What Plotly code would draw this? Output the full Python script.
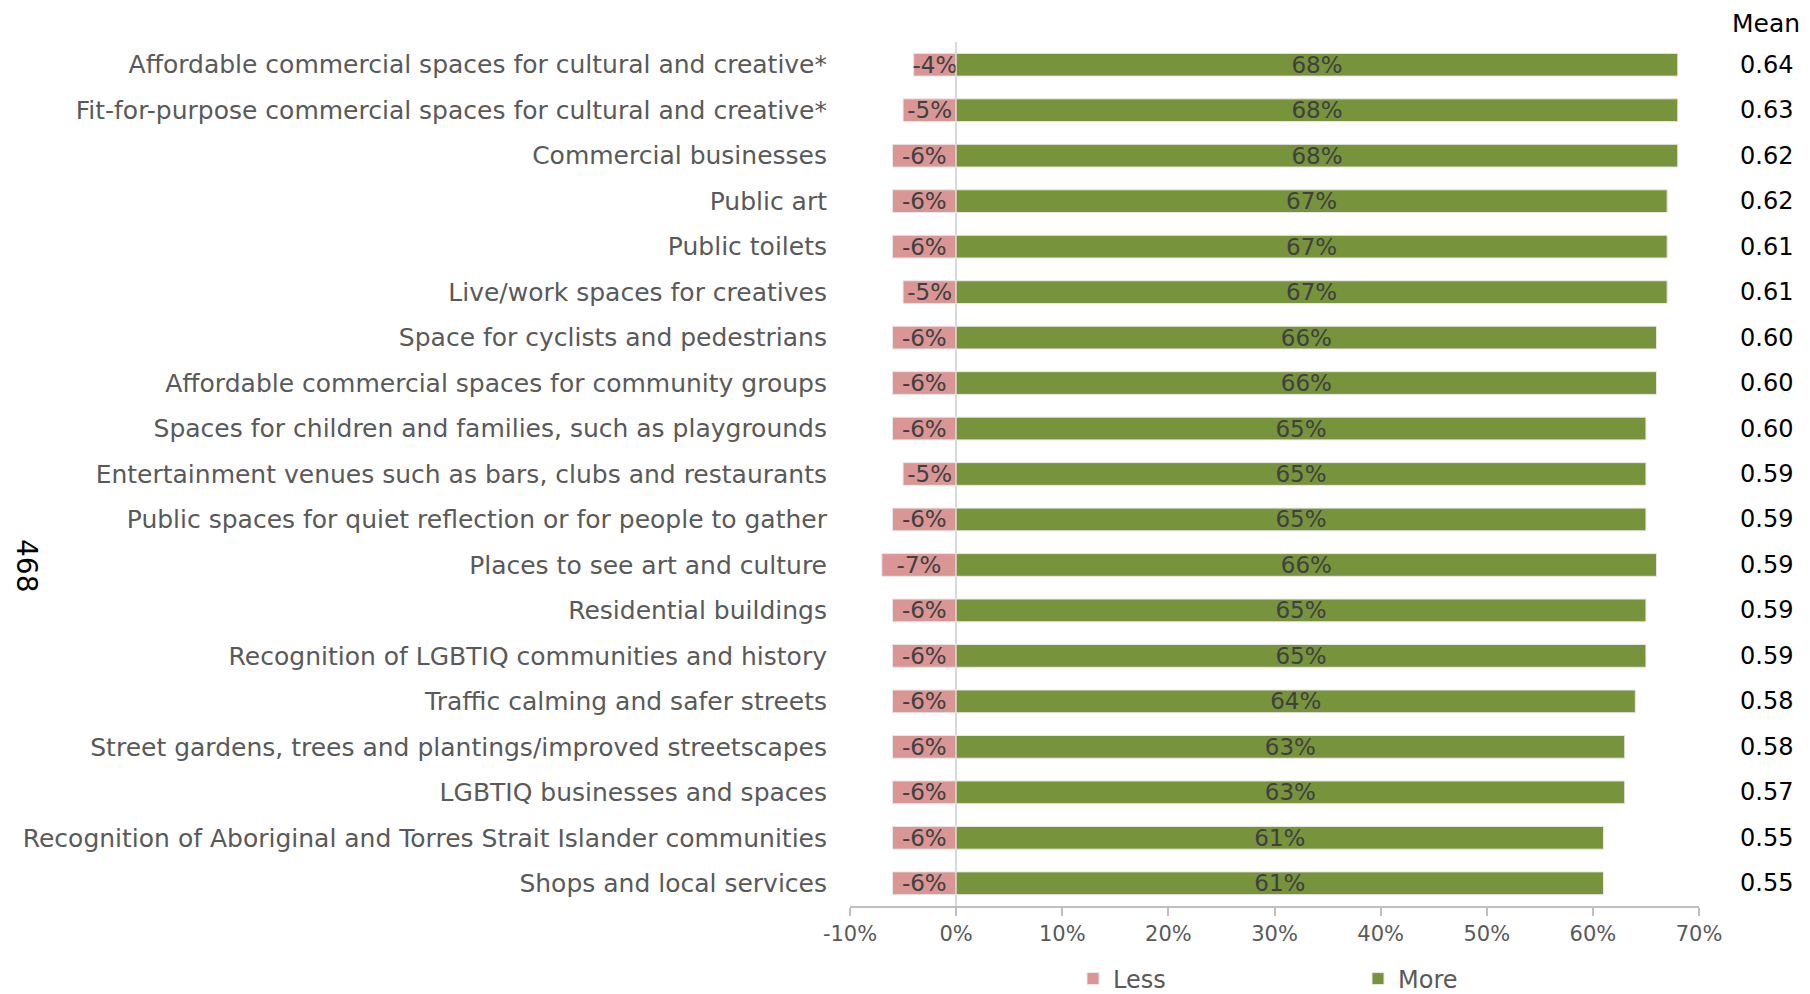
import plotly.graph_objects as go

categories = [
    "Affordable commercial spaces for cultural and creative*",
    "Fit-for-purpose commercial spaces for cultural and creative*",
    "Commercial businesses",
    "Public art",
    "Public toilets",
    "Live/work spaces for creatives",
    "Space for cyclists and pedestrians",
    "Affordable commercial spaces for community groups",
    "Spaces for children and families, such as playgrounds",
    "Entertainment venues such as bars, clubs and restaurants",
    "Public spaces for quiet reflection or for people to gather",
    "Places to see art and culture",
    "Residential buildings",
    "Recognition of LGBTIQ communities and history",
    "Traffic calming and safer streets",
    "Street gardens, trees and plantings/improved streetscapes",
    "LGBTIQ businesses and spaces",
    "Recognition of Aboriginal and Torres Strait Islander communities",
    "Shops and local services",
]
less = [-4, -5, -6, -6, -6, -5, -6, -6, -6, -5, -6, -7, -6, -6, -6, -6, -6, -6, -6]
more = [68, 68, 68, 67, 67, 67, 66, 66, 65, 65, 65, 66, 65, 65, 64, 63, 63, 61, 61]
mean = [0.64, 0.63, 0.62, 0.62, 0.61, 0.61, 0.60, 0.60, 0.60, 0.59, 0.59, 0.59,
        0.59, 0.59, 0.58, 0.58, 0.57, 0.55, 0.55]
x_ticks = [-10, 0, 10, 20, 30, 40, 50, 60, 70]
x_tick_labels = [f"{t}%" for t in x_ticks]
side_label = "468"
mean_header = "Mean"

FONT = "DejaVu Sans"
GREY = "#595959"

OFF = 8  # page body margin offset
W, H = 1810 - OFF, 994 - OFF
PLOT_L, PLOT_R, PLOT_T, PLOT_B = 850 - OFF, 1699 - OFF, 42 - OFF, 906 - OFF
L, R, T, B = PLOT_L, W - PLOT_R, PLOT_T, H - PLOT_B
PW, PH = PLOT_R - PLOT_L, PLOT_B - PLOT_T


def px_x(x):
    return (x - OFF - PLOT_L) / PW


def px_y(y):
    return (PLOT_B - (y - OFF)) / PH


fig = go.Figure()
fig.add_trace(go.Bar(
    y=categories, x=less, name="Less", orientation="h",
    marker=dict(color="#D99694", line=dict(color="#E8E8E8", width=1)),
    texttemplate="%{x:.0f}%", textposition="inside", insidetextanchor="middle",
    constraintext="none", textfont=dict(family=FONT, size=23, color="#404040"),
    hoverinfo="skip",
))
fig.add_trace(go.Bar(
    y=categories, x=more, name="More", orientation="h",
    marker=dict(color="#77933C", line=dict(color="#E8E8E8", width=1)),
    texttemplate="%{x:.0f}%", textposition="inside", insidetextanchor="middle",
    constraintext="none", textfont=dict(family=FONT, size=23, color="#404040"),
    hoverinfo="skip",
))

for c, m in zip(categories, mean):
    fig.add_annotation(x=px_x(1766), xref="paper", y=c, yref="y", text=f"{m:.2f}",
                       showarrow=False, xanchor="center",
                       font=dict(family=FONT, size=24, color="#000000"))
fig.add_annotation(x=px_x(1766), xref="paper", y=px_y(23), yref="paper",
                   text=mean_header, showarrow=False, xanchor="center", yanchor="middle",
                   font=dict(family=FONT, size=25, color="#000000"))
fig.add_annotation(x=px_x(27), xref="paper", y=px_y(565), yref="paper",
                   text=side_label, showarrow=False, textangle=90,
                   xanchor="center", yanchor="middle",
                   font=dict(family=FONT, size=28, color="#000000"))

fig.update_layout(
    width=W, height=H,
    margin=dict(l=L, r=R, t=T, b=B, autoexpand=False),
    paper_bgcolor="white", plot_bgcolor="white",
    barmode="relative", bargap=0.5,
    font=dict(family=FONT, color=GREY),
    showlegend=True,
    legend=dict(orientation="h", x=px_x(1073), xanchor="left",
                yref="container", y=1 - (979 - OFF) / H, yanchor="middle",
                entrywidth=240, entrywidthmode="pixels",
                font=dict(family=FONT, size=24, color=GREY)),
    xaxis=dict(range=[-10, 70], tickvals=x_ticks, ticktext=x_tick_labels,
               showgrid=False, zeroline=True, zerolinecolor="#D9D9D9", zerolinewidth=2,
               showline=True, linecolor="#BFBFBF", linewidth=2, automargin=False,
               ticks="outside", ticklen=8, tickcolor="#BFBFBF", tickwidth=2,
               tickfont=dict(family=FONT, size=21, color=GREY), fixedrange=True),
    yaxis=dict(autorange="reversed", showgrid=False, showline=False, ticks="",
               ticklabelstandoff=22, automargin=False,
               tickfont=dict(family=FONT, size=25, color=GREY), fixedrange=True),
)

fig.write_html("out.html")
